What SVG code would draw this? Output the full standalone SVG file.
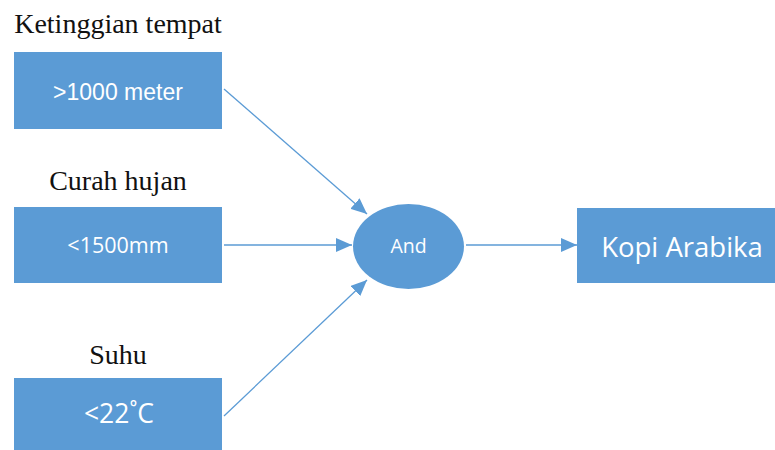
<svg xmlns="http://www.w3.org/2000/svg" width="775" height="450" viewBox="0 0 775 450">
<style>
.box{fill:#5b9bd5;}
.lbl{font-family:"Liberation Serif","DejaVu Serif",serif;font-size:28px;fill:#111;text-anchor:middle;}
.t{font-family:"Open Sans","Liberation Sans",sans-serif;fill:#fff;text-anchor:middle;}
.c{stroke:#5b9bd5;stroke-width:1.3;fill:none;marker-end:url(#ah);}
</style>
<defs>
<marker id="ah" markerWidth="16" markerHeight="14" refX="16" refY="7" orient="auto" markerUnits="userSpaceOnUse">
<path d="M0,0 L16,7 L0,14 Z" fill="#5b9bd5"/>
</marker>
</defs>
<rect width="775" height="450" fill="#fff"/>
<g id="n1">
<text class="lbl" x="118" y="33">Ketinggian tempat</text>
<rect class="box" x="14" y="52" width="208" height="77"/>
<text class="t" x="118" y="100" font-size="23" style="font-family:'Liberation Sans',sans-serif">&gt;1000 meter</text>
</g>
<g id="n2">
<text class="lbl" x="118" y="190">Curah hujan</text>
<rect class="box" x="14" y="207" width="208" height="76"/>
<text class="t" x="118" y="253" font-size="21.5">&lt;1500mm</text>
</g>
<g id="n3">
<text class="lbl" x="118" y="364">Suhu</text>
<rect class="box" x="14" y="378" width="208" height="76"/>
<text class="t" x="119" y="423" font-size="26.5">&lt;22˚C</text>
</g>
<g id="and">
<ellipse cx="408.5" cy="246.5" rx="55.5" ry="42.5" fill="#5b9bd5"/>
<text class="t" x="408.5" y="253" font-size="19.5">And</text>
</g>
<g id="kopi">
<rect class="box" x="577" y="208" width="198" height="75"/>
<text class="t" x="682" y="257" font-size="27.5">Kopi Arabika</text>
</g>
<g id="connectors">
<line class="c" x1="224" y1="89" x2="367" y2="214"/>
<line class="c" x1="224" y1="245" x2="352" y2="245"/>
<line class="c" x1="224" y1="416" x2="367" y2="280"/>
<line class="c" x1="466" y1="245" x2="577" y2="245"/>
</g>
</svg>
